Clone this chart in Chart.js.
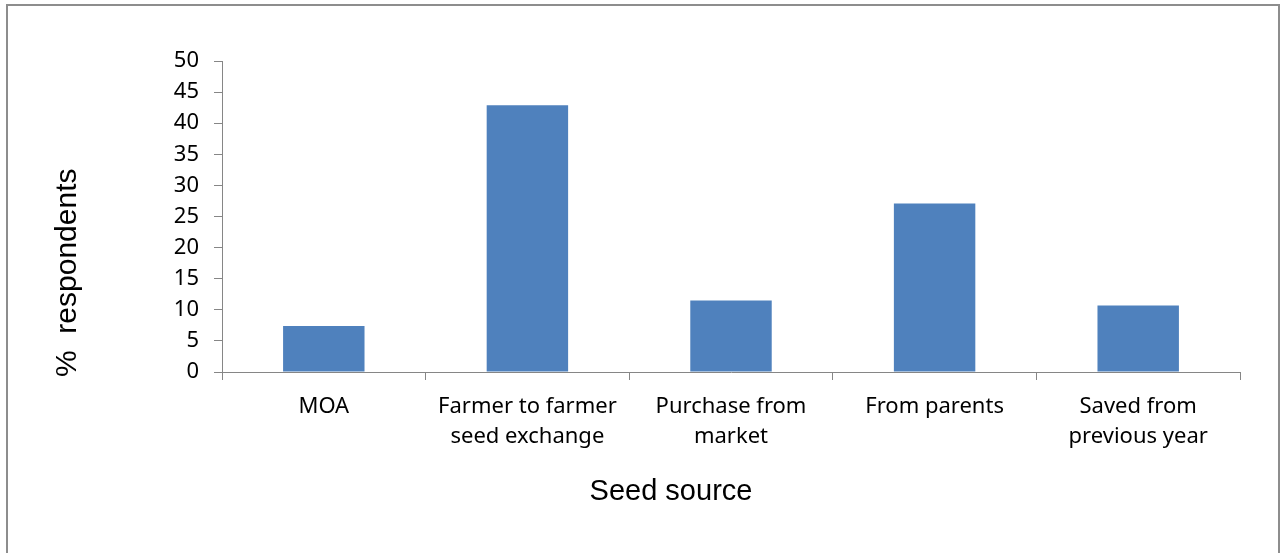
<!DOCTYPE html>
<html>
<head>
<meta charset="utf-8">
<script src="https://cdn.jsdelivr.net/npm/chart.js@4/dist/chart.umd.min.js"></script>
<style>
  html, body { margin: 0; padding: 0; background: #fff; overflow: hidden; }
  #frame {
    position: absolute; left: 6px; top: 4px; width: 1274px; height: 600px;
    box-sizing: border-box; border: 2px solid #8d8d8d; border-bottom: none;
    pointer-events: none;
  }
  #chart { position: absolute; left: 0; top: 0; }
</style>
</head>
<body>
<canvas id="chart" width="1282" height="553"></canvas>
<div id="frame"></div>
<script>
/* Seed source bar chart: % respondents per source */

const CATEGORIES = [
  ['MOA'],
  ['Farmer to farmer', 'seed exchange'],
  ['Purchase from', 'market'],
  ['From parents'],
  ['Saved from', 'previous year'],
];
const RESPONDENTS = [7.4, 42.9, 11.5, 27.1, 10.7];
const Y_TICKS = [0, 5, 10, 15, 20, 25, 30, 35, 40, 45, 50];

const BAR = '#4f81bd';
const AXIS = '#868686';
const TICK_FONT = { family: 'Noto Sans', size: 22 };

// axis titles drawn by hand so they sit where the layout wants them
const axisTitles = {
  id: 'axisTitles',
  afterDraw(chart) {
    const { ctx, chartArea } = chart;
    ctx.save();
    ctx.fillStyle = '#000';

    ctx.font = '29px "Liberation Sans", Arial, sans-serif';
    ctx.textAlign = 'center';
    ctx.textBaseline = 'middle';
    ctx.fillText('Seed source', chartArea.left + 449, 492);

    ctx.font = '30px "Liberation Sans", Arial, sans-serif';
    ctx.translate(68, chartArea.bottom + 5);
    ctx.rotate(-Math.PI / 2);
    ctx.textAlign = 'left';
    ctx.fillText('%  respondents', 0, 0);
    ctx.restore();
  }
};

new Chart(document.getElementById('chart'), {
  type: 'bar',
  data: {
    labels: CATEGORIES,
    datasets: [{
      data: RESPONDENTS,
      backgroundColor: BAR,
      borderWidth: 0,
      categoryPercentage: 1,
      barPercentage: 0.4,
    }]
  },
  options: {
    responsive: false,
    animation: false,
    layout: { padding: { left: 0, right: 42, top: 61, bottom: 0 } },
    plugins: { legend: { display: false }, tooltip: { enabled: false } },
    scales: {
      x: {
        offset: true,
        grid: { offset: true, drawOnChartArea: false, drawTicks: true, tickLength: 8, color: AXIS },
        border: { color: AXIS, width: 1 },
        ticks: { color: '#000', font: { ...TICK_FONT, lineHeight: 1.4 }, padding: 11, maxRotation: 0, autoSkip: false },
        afterFit(scale) { scale.height = 553 - 372; }
      },
      y: {
        min: 0,
        max: 50,
        afterBuildTicks(scale) { scale.ticks = Y_TICKS.map(v => ({ value: v })); },
        grid: { drawOnChartArea: false, drawTicks: true, tickLength: 8, color: AXIS },
        border: { color: AXIS, width: 1 },
        ticks: { color: '#000', font: TICK_FONT, padding: 15 },
        afterFit(scale) { scale.width = 222; }
      }
    }
  },
  plugins: [axisTitles]
});
</script>
</body>
</html>
